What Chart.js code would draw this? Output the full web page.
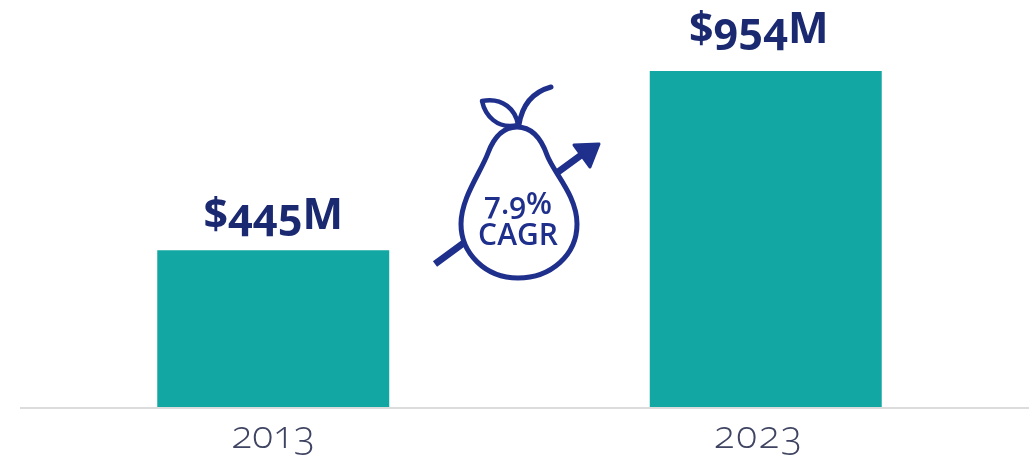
<!DOCTYPE html>
<html>
<head>
<meta charset="utf-8">
<title>Market size 2013 to 2023</title>
<script src="https://cdn.jsdelivr.net/npm/chart.js@4"></script>
<style>
  html, body { margin: 0; padding: 0; background: #ffffff; }
  /* Old-style figures carry through to text drawn on the canvas */
  canvas { display: block; font-feature-settings: "onum" 1; }
</style>
</head>
<body>
<canvas id="chart" width="1029" height="456"></canvas>
<script>
const years = ['2013', '2023'];
const marketSize = [445, 954];
const valueLabels = ['$445M', '$954M'];
const cagrLines = ['7.9%', 'CAGR'];

const TEAL = '#12a7a3';
const NAVY = '#1b2a70';
const BLUE = '#1f2f8c';
const LABEL_FONT = '"Open Sans", sans-serif';

// Per-column nudges for the text above and below the bars
const valueShift = [{ x: 0, y: -21 }, { x: -7, y: -28 }];
const yearShift = [0, -7];
const yearSpacing = ['0px', '1.5px'];

// Draws the baseline, the value and year labels and the pear badge
const overlay = {
  id: 'overlay',
  beforeDatasetsDraw(chart) {
    const { ctx, scales: { y } } = chart;
    ctx.save();
    ctx.strokeStyle = '#dcdcdc';
    ctx.lineWidth = 2;
    ctx.beginPath();
    ctx.moveTo(20, y.getPixelForValue(0) + 1);
    ctx.lineTo(1029, y.getPixelForValue(0) + 1);
    ctx.stroke();
    ctx.restore();
  },
  afterDatasetsDraw(chart) {
    const { ctx, scales: { x } } = chart;
    const bars = chart.getDatasetMeta(0).data;
    ctx.save();
    ctx.textAlign = 'center';
    ctx.textBaseline = 'alphabetic';

    bars.forEach((bar, i) => {
      ctx.fillStyle = NAVY;
      ctx.font = `700 43px ${LABEL_FONT}`;
      ctx.letterSpacing = '0px';
      ctx.fillText(valueLabels[i], bar.x + valueShift[i].x, bar.y + valueShift[i].y);

      ctx.fillStyle = '#3f4462';
      ctx.font = `300 39px ${LABEL_FONT}`;
      ctx.letterSpacing = yearSpacing[i];
      ctx.fillText(years[i], x.getPixelForTick(i) + yearShift[i], 448);
    });
    ctx.letterSpacing = '0px';

    drawPear(ctx);
    ctx.restore();
  }
};

function drawPear(ctx) {
  ctx.lineCap = 'round';
  ctx.lineJoin = 'round';
  ctx.strokeStyle = BLUE;
  ctx.fillStyle = BLUE;

  // Growth arrow passing behind the fruit
  ctx.lineWidth = 7;
  ctx.lineCap = 'butt';
  ctx.beginPath();
  ctx.moveTo(435, 264);
  ctx.lineTo(465, 242);
  ctx.moveTo(558, 172);
  ctx.lineTo(584, 153);
  ctx.stroke();
  ctx.lineCap = 'round';
  ctx.lineWidth = 3;
  ctx.beginPath();
  ctx.moveTo(574, 145);
  ctx.lineTo(599, 144);
  ctx.lineTo(590, 167);
  ctx.closePath();
  ctx.fill();
  ctx.stroke();

  // Fruit outline
  ctx.lineWidth = 5;
  ctx.beginPath();
  ctx.moveTo(517, 127);
  ctx.bezierCurveTo(530, 127, 540, 135, 547, 155);
  ctx.bezierCurveTo(553, 172, 577, 195, 577, 224);
  ctx.bezierCurveTo(577, 255, 551, 278, 518, 278);
  ctx.bezierCurveTo(485, 278, 461, 253, 461, 224);
  ctx.bezierCurveTo(461, 198, 481, 172, 488, 153);
  ctx.bezierCurveTo(494, 137, 503, 127, 517, 127);
  ctx.closePath();
  ctx.stroke();

  // Stem
  ctx.beginPath();
  ctx.moveTo(519, 125);
  ctx.bezierCurveTo(522, 105, 533, 92, 551, 87);
  ctx.stroke();

  // Leaf
  ctx.lineWidth = 4.5;
  ctx.beginPath();
  ctx.moveTo(518, 125);
  ctx.bezierCurveTo(516, 110, 503, 97, 482, 101);
  ctx.bezierCurveTo(485, 115, 497, 130, 518, 125);
  ctx.closePath();
  ctx.stroke();

  // Growth rate inside the fruit
  ctx.fillStyle = BLUE;
  ctx.font = `600 30px ${LABEL_FONT}`;
  ctx.textAlign = 'center';
  ctx.fillText(cagrLines[0], 518, 214);
  ctx.fillText(cagrLines[1], 518, 245);
}

new Chart(document.getElementById('chart'), {
  type: 'bar',
  data: {
    labels: years,
    datasets: [{
      data: marketSize,
      backgroundColor: TEAL,
      borderWidth: 0,
      barPercentage: 0.471,
      categoryPercentage: 1
    }]
  },
  options: {
    responsive: false,
    animation: false,
    layout: { padding: { left: 27, right: 17, top: 0, bottom: 0 } },
    plugins: { legend: { display: false }, tooltip: { enabled: false } },
    scales: {
      x: {
        grid: { display: false },
        border: { display: false },
        ticks: { display: false },
        afterFit(scale) { scale.height = 49; }
      },
      y: { display: false, min: 0, max: 1155.6 }
    }
  },
  plugins: [overlay]
});
</script>
</body>
</html>
